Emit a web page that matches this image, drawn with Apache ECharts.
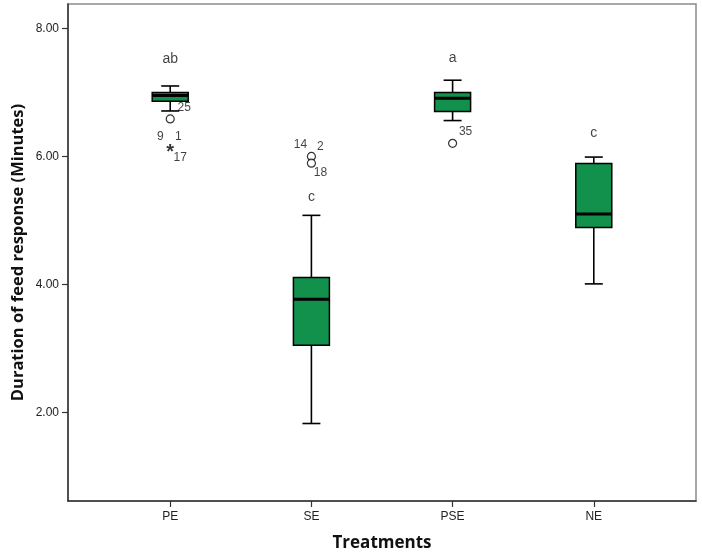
<!DOCTYPE html>
<html>
<head>
<meta charset="utf-8">
<script src="https://cdn.jsdelivr.net/npm/echarts@6/dist/echarts.min.js"></script>
<style>
html,body{margin:0;padding:0;background:#fff;}
#chart{width:702px;height:557px;}
</style>
</head>
<body>
<div id="chart"></div>
<script>
// ---- data ----
const categories = ['PE', 'SE', 'PSE', 'NE'];
// [min, Q1, median, Q3, max]
const boxMin    = [6.71, 1.83, 6.56, 4.01];
const boxQ1     = [6.86, 3.05, 6.70, 4.89];
const boxMedian = [6.95, 3.77, 6.91, 5.10];
const boxQ3     = [7.00, 4.11, 7.00, 5.89];
const boxMax    = [7.10, 5.08, 7.19, 5.99];
// outliers
const outlierCat   = [0, 0, 1, 1, 2];
const outlierValue = [6.585, 6.13, 6.00, 5.895, 6.205];
const outlierKind  = ['circle', 'extreme', 'circle', 'circle', 'circle'];
const outlierIds   = [['25'], ['9', '1', '17'], ['14', '2'], ['18'], ['35']];
// group letters
const groupLetters = ['ab', 'c', 'a', 'c'];
const letterValue  = [7.52, 5.37, 7.54, 6.36];
const yTicks = [2, 4, 6, 8];

// ---- styles (not data) ----
const idOffsets = [[[14, -11]], [[-10, -11], [8, -11], [10, 10]], [[-11, -12], [9, -10]], [[9, 10]], [[13, -12]]];
const FONT = 'Liberation Sans, Arial, sans-serif';
const GREEN = '#12914d';
const HIDDEN = { color: 'rgba(0,0,0,0)' };

const boxData = categories.map((c, i) => [i, boxMin[i], boxQ1[i], boxMedian[i], boxQ3[i], boxMax[i]]);

const circleData = [], starData = [], idData = [];
outlierCat.forEach((c, k) => {
  if (outlierKind[k] === 'circle') circleData.push([c, outlierValue[k]]);
  else starData.push([c, outlierValue[k]]);
  outlierIds[k].forEach((t, j) => {
    idData.push({ value: [c, outlierValue[k]], name: t,
      label: { offset: idOffsets[k][j] } });
  });
});
const letterData = groupLetters.map((l, i) => ({ value: [i, letterValue[i]], name: l }));

const chart = echarts.init(document.getElementById('chart'));
chart.setOption({
  animation: false,
  backgroundColor: '#fff',
  grid: { left: 68, right: 6, top: 4, bottom: 56, show: true, borderColor: '#8a8a8a', borderWidth: 1.5, backgroundColor: 'transparent' },
  xAxis: {
    type: 'value', min: -0.724, max: 3.724,
    name: 'Treatments', nameLocation: 'middle', nameGap: 34,
    nameTextStyle: { fontFamily: 'Open Sans, sans-serif', fontWeight: 'bold', fontSize: 17, color: '#111' },
    axisLine: { show: true, onZero: false, lineStyle: { color: '#333', width: 1.5 } },
    axisTick: { show: true, length: 6, customValues: [0, 1, 2, 3], lineStyle: { color: '#333', width: 1.2 } },
    axisLabel: { customValues: [0, 1, 2, 3], formatter: v => categories[Math.round(v)] || '', fontFamily: FONT, fontSize: 12, color: '#222', margin: 10 },
    splitLine: { show: false }
  },
  yAxis: {
    type: 'value', min: 0.62, max: 8.38,
    name: 'Duration of feed response (Minutes)', nameLocation: 'middle', nameGap: 41,
    nameMoveOverlap: false,
    nameTextStyle: { fontFamily: 'Open Sans, sans-serif', fontWeight: 'bold', fontSize: 16.5, color: '#111' },
    axisLine: { show: true, onZero: false, lineStyle: { color: '#333', width: 1.5 } },
    axisTick: { show: true, length: 6, customValues: yTicks, lineStyle: { color: '#333', width: 1.2 } },
    axisLabel: { customValues: yTicks, formatter: v => v.toFixed(2), fontFamily: FONT, fontSize: 12, color: '#222', margin: 9 },
    splitLine: { show: false }
  },
  series: [
    {
      type: 'custom',
      data: boxData,
      encode: { x: 0, y: [1, 2, 3, 4, 5] },
      renderItem: function (params, api) {
        const x = api.value(0);
        const p = [1, 2, 3, 4, 5].map(k => api.coord([x, api.value(k)]));
        const cx = p[0][0];
        const yMin = p[0][1], yQ1 = p[1][1], yMed = p[2][1], yQ3 = p[3][1], yMax = p[4][1];
        const hb = 18, hc = 9;
        const ls = { stroke: '#000', lineWidth: 1.6 };
        return {
          type: 'group',
          children: [
            { type: 'line', shape: { x1: cx, y1: yQ3, x2: cx, y2: yMax }, style: ls },
            { type: 'line', shape: { x1: cx, y1: yQ1, x2: cx, y2: yMin }, style: ls },
            { type: 'line', shape: { x1: cx - hc, y1: yMax, x2: cx + hc, y2: yMax }, style: ls },
            { type: 'line', shape: { x1: cx - hc, y1: yMin, x2: cx + hc, y2: yMin }, style: ls },
            { type: 'rect', shape: { x: cx - hb, y: yQ3, width: 2 * hb, height: yQ1 - yQ3 }, style: { fill: GREEN, stroke: '#000', lineWidth: 1.5 } },
            { type: 'line', shape: { x1: cx - hb, y1: yMed, x2: cx + hb, y2: yMed }, style: { stroke: '#000', lineWidth: 3 } }
          ]
        };
      },
      z: 2
    },
    {
      type: 'scatter', data: circleData, symbol: 'circle', symbolSize: 8,
      itemStyle: { color: '#fff', borderColor: '#000', borderWidth: 1.2 }, z: 3
    },
    {
      type: 'scatter', data: starData, symbol: 'circle', symbolSize: 2, itemStyle: HIDDEN,
      label: { show: true, position: 'inside', formatter: '*', fontFamily: FONT, fontSize: 20, fontWeight: 'bold', color: '#000', offset: [0, 4] }, z: 3
    },
    {
      type: 'scatter', data: idData, symbol: 'circle', symbolSize: 2, itemStyle: HIDDEN,
      label: { show: true, position: 'inside', formatter: p => p.name, fontFamily: FONT, fontSize: 12, color: '#111' }, z: 4
    },
    {
      type: 'scatter', data: letterData, symbol: 'circle', symbolSize: 2, itemStyle: HIDDEN,
      label: { show: true, position: 'inside', formatter: p => p.name, fontFamily: FONT, fontSize: 14, color: '#111' }, z: 4
    }
  ]
});
</script>
</body>
</html>
